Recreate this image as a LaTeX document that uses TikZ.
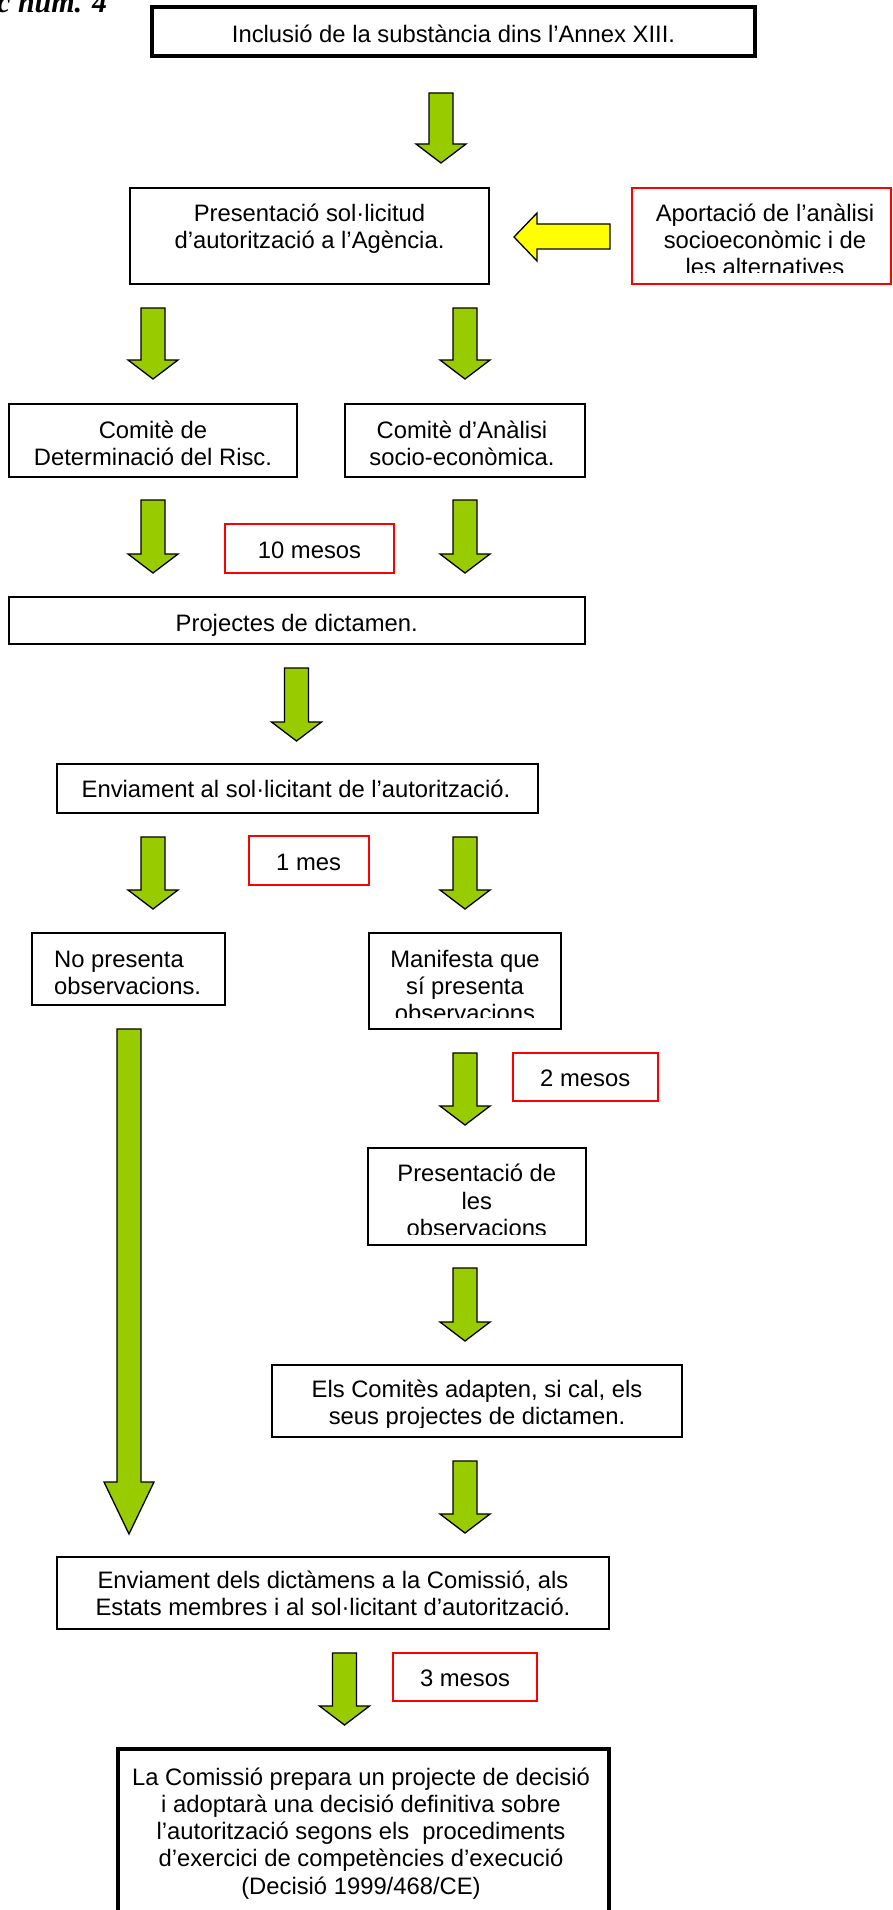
\documentclass[tikz,border=0pt]{standalone}
\usepackage{fontspec}
\setmainfont{Liberation Sans}
\newfontfamily\titlefont{Liberation Serif}
\usetikzlibrary{calc}

\definecolor{verdfletxa}{HTML}{99CC00}
\definecolor{groc}{HTML}{FFFF00}
\definecolor{vermell}{HTML}{FF0000}

% fletxa verda: centre x, inici y, punta y, llargada del cap, mig ample del cap
\newcommand{\garrow}[5]{%
  \draw[greenarrow] (#1-12,#2) -- (#1+12,#2) -- (#1+12,#3-#4) -- (#1+#5,#3-#4)
    -- (#1,#3) -- (#1-#5,#3-#4) -- (#1-12,#3-#4) -- cycle;}

\begin{document}
\begin{tikzpicture}[
    x=1pt, y=-1pt, % 1 unitat = 1 pixel
    box/.style={draw=black, line width=2pt, inner sep=0pt}, % Caixa negra
    thickbox/.style={box, line width=4pt}, % Caixa de vora gruixuda
    redbox/.style={draw=vermell, line width=1.8pt, inner sep=0pt}, % Caixa de termini
    txt/.style={inner sep=0pt, align=center, font=\fontsize{23.8}{27.3}\selectfont},
    greenarrow/.style={fill=verdfletxa, draw=black, line width=1.3pt},
    yellowarrow/.style={fill=groc, draw=black, line width=1.3pt},
  ]

  \useasboundingbox[fill=white] (0,0) rectangle (892,1910);

  % Títol
  \node[anchor=base west, inner sep=0pt, font=\titlefont\bfseries\itshape\fontsize{30}{34}\selectfont]
    (titol) at (-3,13) {c núm. 4};

  % Caixes
  \node[thickbox, minimum width=603, minimum height=49] (inclusio) at (453.5,31.5) {};
  \node[box, minimum width=359, minimum height=96] (presentacio) at (309.5,236) {};
  \node[redbox, minimum width=259, minimum height=96] (aportacio) at (761.5,236) {};
  \node[box, minimum width=288.5, minimum height=73] (comiterisc) at (152.75,440.5) {};
  \node[box, minimum width=240, minimum height=73] (comitesocio) at (465,440.5) {};
  \node[redbox, minimum width=169, minimum height=49] (mesosdeu) at (309.5,548.5) {};
  \node[box, minimum width=576.5, minimum height=47] (projectes) at (296.75,620.5) {};
  \node[box, minimum width=480.5, minimum height=49] (enviament) at (297.25,788.5) {};
  \node[redbox, minimum width=120, minimum height=49] (mesun) at (308.6,860.5) {};
  \node[box, minimum width=192.3, minimum height=72] (nopresenta) at (128.55,969) {};
  \node[box, minimum width=192.8, minimum height=96] (manifesta) at (465,981) {};
  \node[redbox, minimum width=145, minimum height=48] (mesosdos) at (585.2,1076.7) {};
  \node[box, minimum width=217.7, minimum height=97] (presobs) at (476.85,1196.5) {};
  \node[box, minimum width=409.4, minimum height=71.7] (adapten) at (477,1400.85) {};
  \node[box, minimum width=552.3, minimum height=72.6] (enviamentdels) at (333.15,1593) {};
  \node[redbox, minimum width=144.6, minimum height=48.3] (mesostres) at (465,1676.85) {};
  \node[thickbox, minimum width=491, minimum height=170] (comissio) at (363.5,1834.3) {};

  % Textos (anchor=base: línia de base de la darrera línia)
  \node[txt, anchor=base] (tinclusio) at (453.5,43) {Inclusió de la substància dins l’Annex XIII.};
  \node[txt, anchor=base] (tpresentacio) at (309.5,221+27.3) {Presentació sol·licitud\\d’autorització a l’Agència.};
  \begin{scope}
    \clip (aportacio.north west) rectangle ($(aportacio.east)+(0,36)$);
    \node[txt, anchor=base] (taportacio) at (765,221+2*27.3) {Aportació de l’anàlisi\\socioeconòmic i de\\les alternatives};
  \end{scope}
  \node[txt, anchor=base] (tcomiterisc) at (153,438+27.3) {Comitè de\\Determinació del Risc.};
  \node[txt, anchor=base] (tcomitesocio) at (462,438+27.3) {Comitè d’Anàlisi\\socio-econòmica.};
  \node[txt, anchor=base] (tmesosdeu) at (309.5,558) {10 mesos};
  \node[txt, anchor=base] (tprojectes) at (296.75,631) {Projectes de dictamen.};
  \node[txt, anchor=base] (tenviament) at (296,797) {Enviament al sol·licitant de l’autorització.};
  \node[txt, anchor=base] (tmesun) at (308.6,870) {1 mes};
  \node[txt, anchor=base west, align=left] (tnopresenta) at (54,967+27.3) {No presenta\\observacions.};
  \begin{scope}
    \clip (manifesta.north west) rectangle ($(manifesta.east)+(0,36)$);
    \node[txt, anchor=base] (tmanifesta) at (465,967+2*27.3) {Manifesta que\\sí presenta\\observacions};
  \end{scope}
  \node[txt, anchor=base] (tmesosdos) at (585.2,1086) {2 mesos};
  \begin{scope}
    \clip (presobs.north west) rectangle ($(presobs.east)+(0,37.5)$);
    \node[txt, anchor=base] (tpresobs) at (476.8,1181.7+2*27.3) {Presentació de\\les\\observacions};
  \end{scope}
  \begin{scope}
    \clip (adapten.north west) rectangle ($(adapten.east)+(0,27)$);
    \node[txt, anchor=base] (tadapten) at (477,1397+27.3) {Els Comitès adapten, si cal, els\\seus projectes de dictamen.};
  \end{scope}
  \node[txt, anchor=base] (tenviamentdels) at (333,1588+27.3) {Enviament dels dictàmens a la Comissió, als\\Estats membres i al sol·licitant d’autorització.};
  \node[txt, anchor=base] (tmesostres) at (465,1686) {3 mesos};
  \node[txt, anchor=base] (tcomissio) at (361,1785+4*27.3) {La Comissió prepara un projecte de decisió\\i adoptarà una decisió definitiva sobre\\l’autorització segons els \ procediments\\d’exercici de competències d’execució\\(Decisió 1999/468/CE)};

  % Fletxes verdes
  \foreach \x/\ya/\yb in {441/93/163, 153/308/379, 465/308/379, 153/500/573,
      465/500/573, 296.5/668/741, 153/837/909, 465/837/909, 465/1053/1125,
      465/1268/1341, 465/1461/1533, 344.5/1653/1725}
    \garrow{\x}{\ya}{\yb}{19}{25};
  \garrow{129}{1029}{1534}{52}{25}

  % Fletxa groga
  \draw[yellowarrow] (610,224) -- (537,224) -- (537,213) -- (514,237)
    -- (537,261) -- (537,249) -- (610,249) -- cycle;

\end{tikzpicture}
\end{document}
